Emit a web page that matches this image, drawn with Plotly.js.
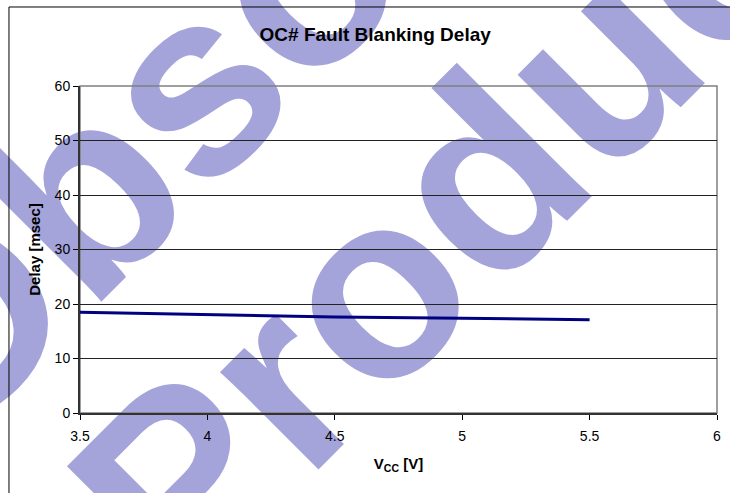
<!DOCTYPE html>
<html>
<head>
<meta charset="utf-8">
<script src="https://cdn.plot.ly/plotly-3.0.1.min.js"></script>
<style>
  html, body { margin: 0; padding: 0; background: #ffffff; }
  #wrap { position: relative; width: 730px; height: 493px; overflow: hidden; background: #ffffff; }
  #wm { position: absolute; left: 0; top: 0; z-index: 0; }
  #chart { position: absolute; left: 0; top: 0; width: 730px; height: 493px; z-index: 1; }
</style>
</head>
<body>
<div id="wrap">
  <svg id="wm" width="730" height="493" xmlns="http://www.w3.org/2000/svg">
    <g font-family="Arial, 'Liberation Sans', sans-serif" font-weight="bold" font-size="262" fill="#a4a4db">
      <text x="-55" y="458" transform="rotate(-45 -55 458)">Obsolete</text>
      <text x="182" y="606" transform="rotate(-45 182 606)">Product</text>
    </g>
  </svg>
  <div id="chart"></div>
</div>
<script>
// Data
const vcc = [3.5, 3.8, 4.0, 4.5, 5.0, 5.5];
const delayMs = [18.5, 18.2, 18.1, 17.6, 17.4, 17.1];
const xTicks = [3.5, 4, 4.5, 5, 5.5, 6];
const xTickLabels = ['3.5', '4', '4.5', '5', '5.5', '6'];
const yTicks = [0, 10, 20, 30, 40, 50, 60];
const chartTitle = 'OC# Fault Blanking Delay';
const xTitle = 'V<sub>CC</sub> [V]';
const yTitle = 'Delay [msec]';

const FONT = 'Arial, "Liberation Sans", sans-serif';

const trace = {
  x: vcc,
  y: delayMs,
  type: 'scatter',
  mode: 'lines',
  line: { color: '#000080', width: 3 },
  hoverinfo: 'skip',
  showlegend: false
};

const layout = {
  width: 730,
  height: 493,
  margin: { l: 80, r: 13, t: 86, b: 80 },
  paper_bgcolor: 'rgba(0,0,0,0)',
  plot_bgcolor: 'rgba(0,0,0,0)',
  font: { family: FONT, color: '#000', size: 14 },
  title: {
    text: '<b>' + chartTitle + '</b>',
    font: { family: FONT, size: 19, color: '#000' },
    xref: 'container', x: 0.514, xanchor: 'center',
    yref: 'container', y: 0.931, yanchor: 'middle'
  },
  xaxis: {
    range: [3.5, 6],
    tickvals: xTicks,
    ticktext: xTickLabels,
    ticks: 'outside',
    ticklen: 5,
    tickcolor: '#000',
    ticklabelstandoff: 4,
    showgrid: false,
    zeroline: false,
    showline: true,
    linecolor: '#333',
    linewidth: 2,
    tickfont: { family: FONT, size: 14, color: '#000' },
    title: { text: '<b>' + xTitle + '</b>', font: { family: FONT, size: 15, color: '#000' }, standoff: 16 },
    automargin: false,
    fixedrange: true
  },
  yaxis: {
    range: [0, 60],
    tickvals: yTicks,
    ticks: 'outside',
    ticklen: 5,
    tickcolor: '#000',
    showgrid: true,
    gridcolor: '#222',
    gridwidth: 1,
    zeroline: false,
    showline: true,
    linecolor: '#333',
    linewidth: 2,
    tickfont: { family: FONT, size: 14, color: '#000' },
    title: { text: '<b>' + yTitle + '</b>', font: { family: FONT, size: 15, color: '#000' }, standoff: 10 },
    automargin: false,
    fixedrange: true
  },
  shapes: [
    { type: 'rect', xref: 'paper', yref: 'paper', x0: 0, x1: 1, y0: 0, y1: 1,
      line: { color: '#808080', width: 1.5 }, layer: 'below' },
    { type: 'rect', xref: 'paper', yref: 'paper', x0: -0.1115, x1: 1.2, y0: -0.4, y1: 1.2416,
      line: { color: '#000', width: 1 }, fillcolor: 'rgba(0,0,0,0)', layer: 'above' }
  ]
};

Plotly.newPlot('chart', [trace], layout, { displayModeBar: false, staticPlot: true });
</script>
</body>
</html>
